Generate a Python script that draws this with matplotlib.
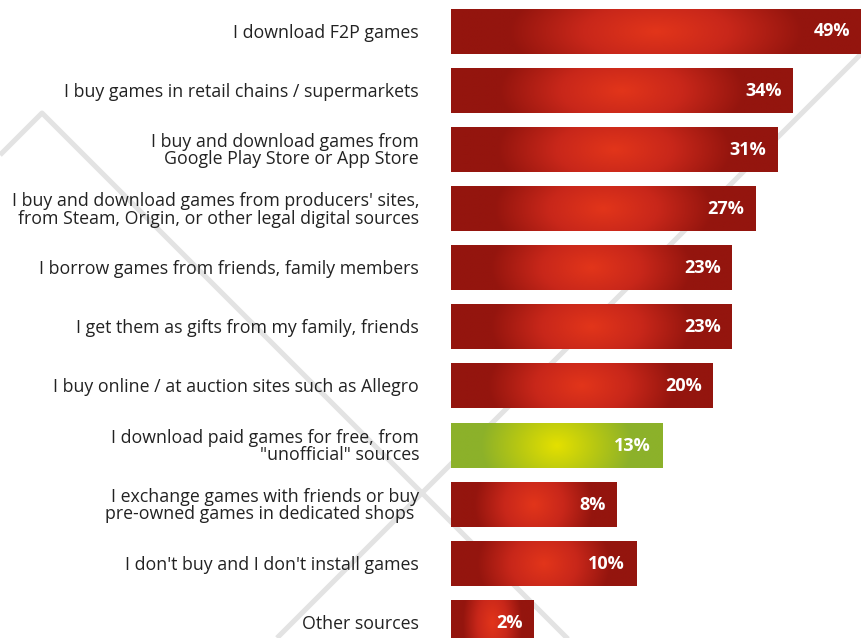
import numpy as np
import matplotlib
matplotlib.use("Agg")
import matplotlib.pyplot as plt
from matplotlib.colors import LinearSegmentedColormap

# ================================
# Data
# ================================
labels = [
    "I download F2P games",
    "I buy games in retail chains / supermarkets",
    "I buy and download games from\nGoogle Play Store or App Store",
    "I buy and download games from producers' sites,\nfrom Steam, Origin, or other legal digital sources",
    "I borrow games from friends, family members",
    "I get them as gifts from my family, friends",
    "I buy online / at auction sites such as Allegro",
    "I download paid games for free, from\n\"unofficial\" sources",
    "I exchange games with friends or buy\npre-owned games in dedicated shops ",
    "I don't buy and I don't install games",
    "Other sources",
]
values = [49, 34, 31, 27, 23, 23, 20, 13, 8, 10, 2]
highlight = [False, False, False, False, False, False, False, True, False, False, False]

# ================================
# Colours (radial gradients)
# ================================
red_cmap = LinearSegmentedColormap.from_list("red", ["#e2351a", "#c8271a", "#94150e"])
green_cmap = LinearSegmentedColormap.from_list("green", ["#e4e000", "#b8c812", "#8cb12a"])
line_color = "#e3e3e3"

plt.rcParams["font.family"] = ["Open Sans", "DejaVu Sans"]

W, H = 861, 638
fig = plt.figure(figsize=(W / 100, H / 100), dpi=100)

# background axes in pixel coordinates (decoration + gradient fills)
bg = fig.add_axes([0, 0, 1, 1], zorder=0)
bg.set_xlim(0, W)
bg.set_ylim(0, H)
bg.axis("off")
bg.plot([0, 42, 700], [H - 155, H - 113, H - 771], color=line_color, lw=3.6,
        solid_capstyle="butt", zorder=1)
bg.plot([915, 277], [H, 0], color=line_color, lw=3.6, solid_capstyle="butt", zorder=1)

# ================================
# Bars (square-root scale on x)
# ================================
x0 = 451
pitch = 59.15
top_c, bot_c = 31.5, 623
ax = fig.add_axes([x0 / W, 0, (W - x0) / W, 1], zorder=1)
ax.patch.set_alpha(0)
ax.set_xscale("function", functions=(np.sqrt, np.square))
ax.set_xlim(0, 49)
ax.set_ylim(10 + (H - bot_c) / pitch, -top_c / pitch)
ax.axis("off")

bar_h = 0.745
bars = ax.barh(range(len(values)), values, height=bar_h, color="none", zorder=2)

nx, ny = 200, 40
gx = np.linspace(-1, 1, nx)
gy = np.linspace(-1, 1, ny)
GX, GY = np.meshgrid(gx, gy)
t = np.sqrt((GX / 0.72) ** 2 + (GY / 2.6) ** 2)
t = np.clip(t, 0, 1)

# fill each bar with its radial gradient, placed in pixel space
for i, (v, hl) in enumerate(zip(values, highlight)):
    cmap = green_cmap if hl else red_cmap
    (px0, py0), (px1, py1) = ax.transData.transform([(0, i + bar_h / 2), (v, i - bar_h / 2)])
    bg.imshow(t, cmap=cmap, vmin=0, vmax=1, aspect="auto",
              extent=[px0, px1, py0, py1], origin="lower",
              interpolation="bilinear", zorder=2)
    ax.annotate(f"{v}%", xy=(v, i), xytext=(-8, 0), textcoords="offset points",
                ha="right", va="center", color="white", fontsize=13,
                fontweight="bold", zorder=3)
bg.set_xlim(0, W)
bg.set_ylim(0, H)

# category labels
for i, lab in enumerate(labels):
    ax.annotate(lab, xy=(0, i), xytext=(-32, -1), textcoords="offset pixels",
                ha="right", va="center", fontsize=12.75, color="#222222",
                linespacing=0.95, annotation_clip=False)

fig.savefig("out.png", dpi=100)
